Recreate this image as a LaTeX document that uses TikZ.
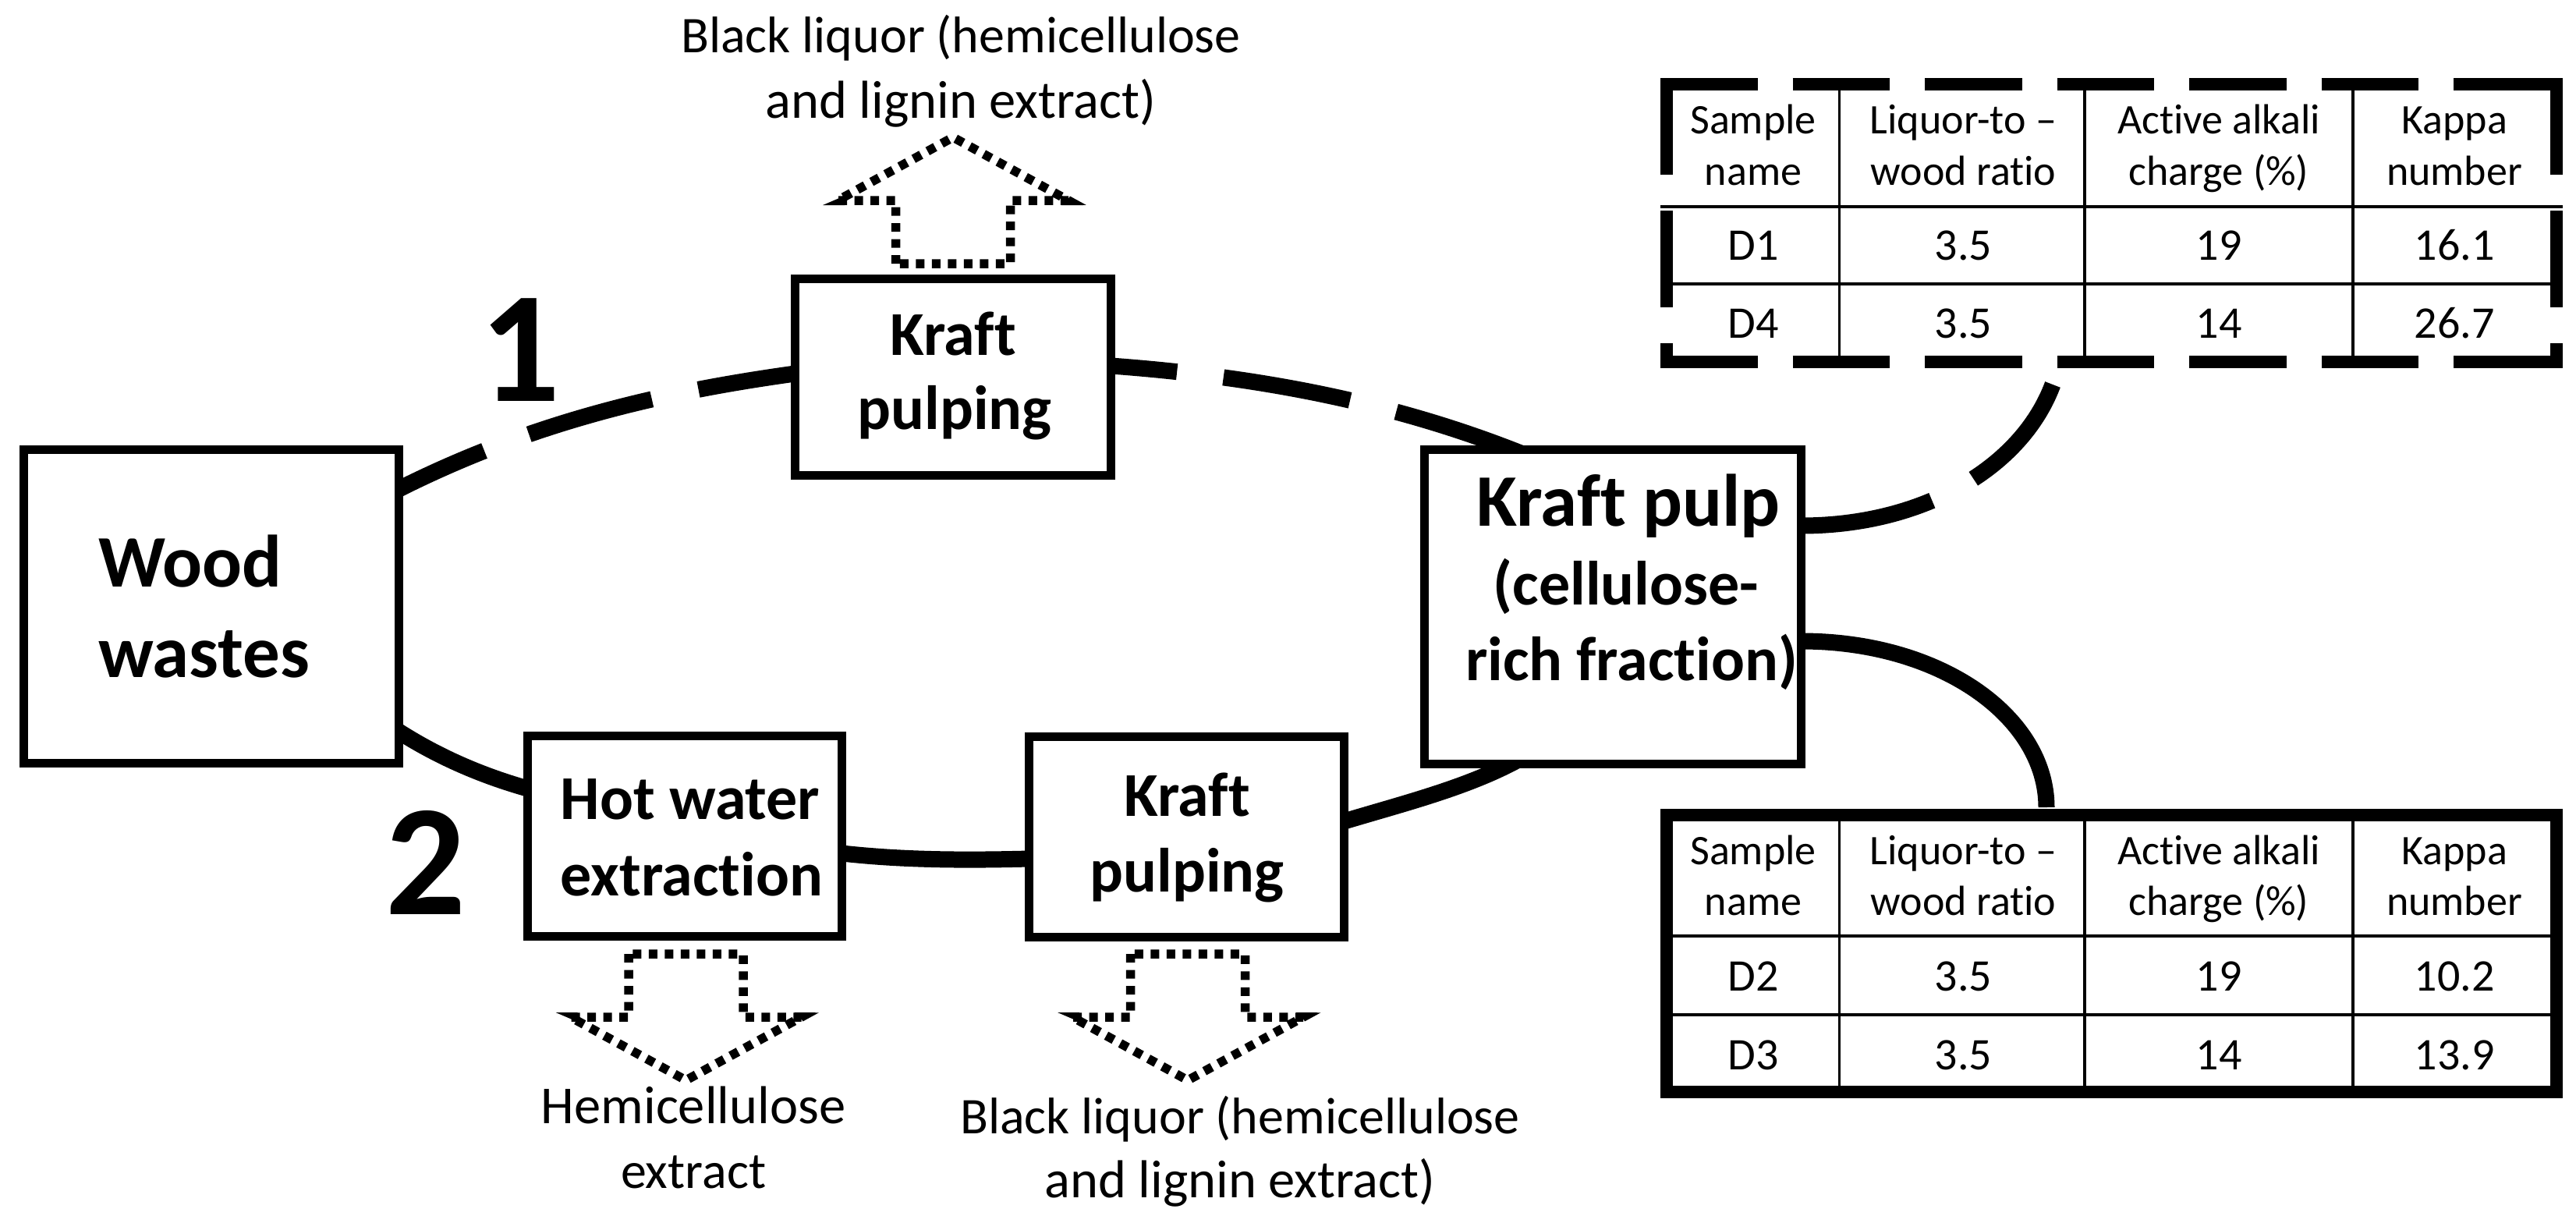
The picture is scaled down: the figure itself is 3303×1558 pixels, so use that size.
\documentclass[tikz,border=0pt]{standalone}
\usepackage{fontspec}
\setmainfont[Ligatures=NoCommon]{Carlito}
\usetikzlibrary{backgrounds}
\tikzset{
  procbox/.style={draw=black,fill=white,line width=11pt,rectangle,outer sep=0pt,inner sep=0pt,line join=miter},
  conn/.style={draw=black,line width=21pt,line cap=butt},
  lbl/.style={inner sep=0pt,outer sep=0pt,anchor=base,align=center},
  bigbold/.style={lbl,font=\fontsize{95}{98}\selectfont\bfseries},
  subbold/.style={lbl,font=\fontsize{80}{98}\selectfont\bfseries},
  medbold/.style={lbl,font=\fontsize{80}{97}\selectfont\bfseries},
  numlabel/.style={lbl,font=\fontsize{203}{210}\selectfont\bfseries},
  sidetext/.style={lbl,font=\fontsize{66}{83}\selectfont},
  sidewide/.style={lbl,font=\fontsize{68.5}{83}\selectfont},
  headcell/.style={lbl,font=\fontsize{54}{65.5}\selectfont},
  datacell/.style={lbl,font=\fontsize{58}{66}\selectfont},
  dotline/.style={line width=11.5pt,dash pattern=on 11pt off 9.5pt,line join=miter,line cap=butt},
  tabframe/.style={line width=16pt,line cap=butt},
  tabthin/.style={line width=3.5pt},
  tabrow/.style={line width=4.5pt},
}
% outlined dotted block arrow: centre x, base y, direction (1 up, -1 down)
\newcommand{\dotarrow}[3]{%
  \begin{scope}[shift={(#1,#2)},yscale=#3]
    \draw[dotline] (-73.5,81) -- (-73.5,0) -- (-148,0) -- (0,-81) -- (148,0) -- (73.5,0) -- (73.5,81) -- cycle;
    \fill (-167,6) -- (-139,6) -- (-139,-6) -- cycle;
    \fill (167,6) -- (139,6) -- (139,-6) -- cycle;
  \end{scope}}
\begin{document}
\begin{tikzpicture}[x=1pt,y=-1pt]
\useasboundingbox (0,0) rectangle (3303,1558);

% boxes
\node[procbox,minimum width=481pt,minimum height=402pt] (wood) at (271,777.5) {};
\node[procbox,minimum width=405pt,minimum height=252pt] (kraftA) at (1222,483.5) {};
\node[procbox,minimum width=403pt,minimum height=257pt] (hot) at (878,1072) {};
\node[procbox,minimum width=404pt,minimum height=257pt] (kraftB) at (1521.5,1073) {};
\node[procbox,minimum width=483pt,minimum height=403pt] (pulp) at (2068,778) {};
\node[rectangle,draw=none,inner sep=0pt,outer sep=0pt,minimum width=1141pt,minimum height=356pt] (tabA) at (2707.5,286) {};
\node[rectangle,draw=black,line width=16pt,inner sep=0pt,outer sep=0pt,minimum width=1141pt,minimum height=355pt] (tabB) at (2707.5,1222.5) {};

% connectors
\begin{pgfonlayer}{background}
\draw[conn,dash pattern=on 120pt off 61pt on 164pt off 61pt on 400pt]
  ([yshift=-50.5pt]wood.north east) .. controls (687,539) and (854,502) .. ([yshift=-121.5pt]kraftA.north west);
\draw[conn,dash pattern=on 85pt off 60pt on 165pt off 61pt on 400pt]
  ([yshift=-111.5pt]kraftA.north east) .. controls (1600,482) and (1780,512) .. ([xshift=133.5pt,yshift=-8.5pt]pulp.north west);
\draw[conn] ([yshift=-361.5pt]wood.north east) .. controls (565,972) and (620,995) .. ([yshift=-67.5pt]hot.north west);
\draw[conn] ([yshift=-150.5pt]hot.north east) .. controls (1160,1103) and (1240,1103) .. ([yshift=-156.5pt]kraftB.north west);
\draw[conn] ([yshift=-108.5pt]kraftB.north east) .. controls (1800,1030) and (1880,1010) .. ([xshift=118.5pt,yshift=4.5pt]pulp.south west);
\draw[conn,dash pattern=on 172pt off 60pt on 400pt]
  ([yshift=-97.5pt]pulp.north east) .. controls (2465,674) and (2592,600) .. ([xshift=495pt,yshift=-29pt]tabA.south west);
\draw[conn] ([yshift=-245.5pt]pulp.north east) .. controls (2490,822) and (2624,920) .. ([xshift=487pt,yshift=10pt]tabB.north west);
\end{pgfonlayer}

% box labels
\node[bigbold,anchor=base west] (woodT1) at (126,752) {Wood};
\node[bigbold,anchor=base west] (woodT2) at (126,868) {wastes};
\node[medbold] (kraftAT1) at (1222,455) {Kraft};
\node[medbold] (kraftAT2) at (1224,550) {pulping};
\node[medbold] (hotT1) at (885,1050) {Hot water};
\node[medbold] (hotT2) at (887,1148) {extraction};
\node[medbold] (kraftBT1) at (1522,1046) {Kraft};
\node[medbold] (kraftBT2) at (1522,1143) {pulping};
\node[bigbold] (pulpT1) at (2088,674) {Kraft pulp};
\node[subbold] (pulpT2) at (2085,775) {(cellulose-};
\node[subbold] (pulpT3) at (2092,872) {rich fraction)};
\node[numlabel] (num1) at (667,514) {1};
\node[numlabel] (num2) at (546,1172) {2};

% side labels
\node[sidetext] (blackA1) at (1232,67) {Black liquor (hemicellulose};
\node[sidewide] (blackA2) at (1232,151) {and lignin extract)};
\node[sidewide] (hemi1) at (889,1440) {Hemicellulose};
\node[sidetext] (hemi2) at (889,1523) {extract};
\node[sidetext] (blackB1) at (1590,1453) {Black liquor (hemicellulose};
\node[sidewide] (blackB2) at (1590,1535) {and lignin extract)};

% dotted arrows
\dotarrow{1222}{257}{1}
\dotarrow{879.5}{1304}{-1}
\dotarrow{1523}{1304}{-1}

% table A grid
\foreach \gx in {2358.5,2673,3017}
  \draw[tabthin] (\gx,108) -- (\gx,464);
\draw[tabrow] ([xshift=-8pt,yshift=199pt]tabA.south west) -- ([xshift=8pt,yshift=199pt]tabA.south east);
\draw[tabrow] ([yshift=100pt]tabA.south west) -- ([yshift=100pt]tabA.south east);
% table A dashed frame
\draw[tabframe,dash pattern=on 124.5pt off 45pt] ([xshift=-8pt]tabA.north west) -- ([xshift=8pt]tabA.north east);
\draw[tabframe,dash pattern=on 124.5pt off 45pt] ([xshift=-8pt]tabA.south west) -- ([xshift=8pt]tabA.south east);
\draw[tabframe,dash pattern=on 124pt off 46pt] ([yshift=8pt]tabA.north west) -- ([yshift=-8pt]tabA.south west);
\draw[tabframe,dash pattern=on 124pt off 46pt] ([yshift=8pt]tabA.north east) -- ([yshift=-8pt]tabA.south east);

% table B grid
\foreach \gx in {2358.5,2673,3017}
  \draw[tabthin] (\gx,1045) -- (\gx,1400);
\draw[tabthin] (2137,1200) -- (3278,1200);
\draw[tabrow] (2137,1301) -- (3278,1301);

% table text (node base = last line)
\foreach \cx/\cn/\tx in {2248/a/{Sample\\name},2517.5/b/{Liquor-to –\\wood ratio},2845/c/{Active alkali\\charge (\%)},3147/d/{Kappa\\number}}{
  \node[headcell] (tA\cn) at (\cx,237) {\tx};
  \node[headcell] (tB\cn) at (\cx,1173.5) {\tx};
}
\foreach \cx/\cn/\tu/\tv/\tw/\tz in {2248/a/D1/D4/D2/D3,2517.5/b/3.5/3.5/3.5/3.5,2845/c/19/14/19/14,3147/d/16.1/26.7/10.2/13.9}{
  \node[datacell] (rA1\cn) at (\cx,333.6) {\tu};
  \node[datacell] (rA2\cn) at (\cx,433) {\tv};
  \node[datacell] (rB1\cn) at (\cx,1270) {\tw};
  \node[datacell] (rB2\cn) at (\cx,1371) {\tz};
}
\end{tikzpicture}
\end{document}
